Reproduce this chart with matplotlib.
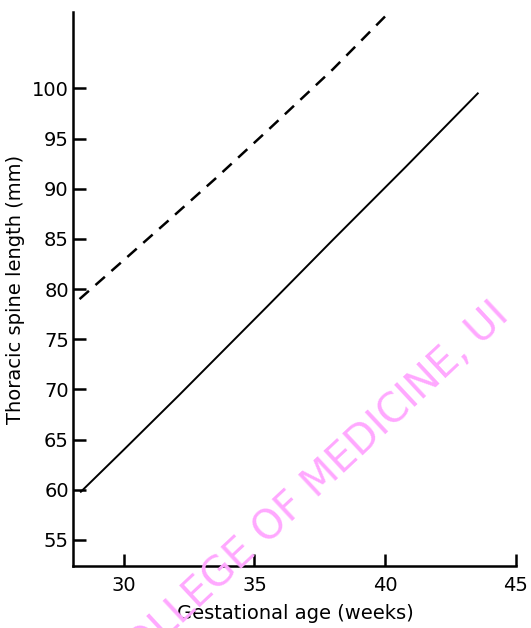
import matplotlib.pyplot as plt

# values
weeks_solid = [28.35, 30.0, 32.1, 35.5, 38.0, 40.8, 43.55]
length_solid = [59.8, 64.0, 69.4, 78.3, 84.9, 92.2, 99.5]

weeks_dash = [28.3, 30.0, 31.65, 33.5, 35.5, 38.0, 40.05]
length_dash = [79.0, 82.9, 86.7, 91.0, 95.8, 101.9, 107.3]

x_ticks = [30, 35, 40, 45]
y_ticks = [55, 60, 65, 70, 75, 80, 85, 90, 95, 100]

plt.rcParams['font.family'] = ['DejaVu Sans']

fig = plt.figure(figsize=(5.31, 6.28), dpi=100)
ax = fig.add_axes([0.1375, 0.0987, 0.836, 0.882])

ax.plot(weeks_solid, length_solid, color='black', lw=1.4)
ax.plot(weeks_dash, length_dash, color='black', lw=1.8, dashes=(5, 3.5))

ax.set_xlim(28.05, 45.05)
ax.set_ylim(52.4, 107.6)
ax.set_xticks(x_ticks)
ax.set_yticks(y_ticks)
for s in ['top', 'right']:
    ax.spines[s].set_visible(False)
for s in ['left', 'bottom']:
    ax.spines[s].set_linewidth(1.8)
    ax.spines[s].set_color('black')
ax.spines['bottom'].set_bounds(28.05, 45)

ax.tick_params(axis='both', direction='in', length=9, width=1.8,
               labelsize=14, colors='black')
ax.tick_params(axis='x', pad=7)
ax.tick_params(axis='y', pad=3)

ax.set_xlabel('Gestational age (weeks)', fontsize=14, labelpad=7)
ax.set_ylabel('Thoracic spine length (mm)', fontsize=14, labelpad=5)

# watermark of the scanned source
fig.text(0.962, 0.494, 'COLLEGE OF MEDICINE, UI', color='#ffa8ff',
         fontsize=29, rotation=43, rotation_mode='anchor',
         ha='right', va='baseline', zorder=5)

fig.savefig('out.png', dpi=100, facecolor='white')
